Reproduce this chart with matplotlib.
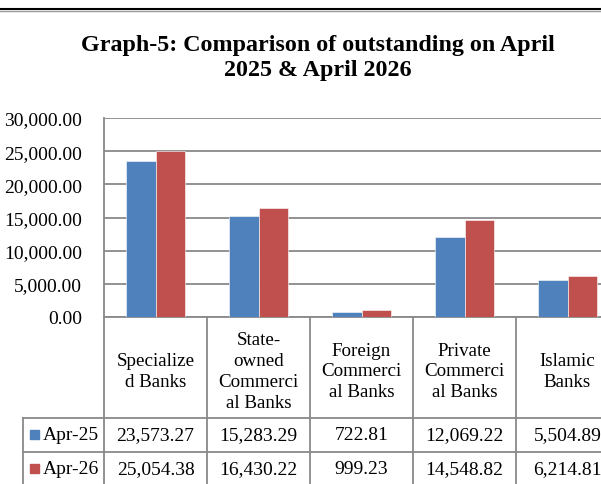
import matplotlib
matplotlib.use('Agg')
import matplotlib.pyplot as plt
from matplotlib.lines import Line2D
from matplotlib.patches import Rectangle
from matplotlib.transforms import blended_transform_factory

# data
categories = ["Specialize\nd Banks", "State-\nowned\nCommerci\nal Banks",
              "Foreign\nCommerci\nal Banks", "Private\nCommerci\nal Banks",
              "Islamic\nBanks"]
series_names = ["Apr-25", "Apr-26"]
apr25 = [23573.27, 15283.29, 722.81, 12069.22, 5504.89]
apr26 = [25054.38, 16430.22, 999.23, 14548.82, 6214.81]
yticks = [0, 5000, 10000, 15000, 20000, 25000, 30000]
colors = ["#4F81BD", "#C0504D"]
title = "Graph-5: Comparison of outstanding on April\n2025 & April 2026"

plt.rcParams['font.family'] = ['Liberation Serif', 'DejaVu Serif']

W, H = 601, 485
fig = plt.figure(figsize=(W / 100, H / 100), dpi=100)


def fx(x):
    return x / W


def fy(y):
    return 1 - y / H


grid_c = '#898989'
fs = 14

# plot area (right side runs past the picture edge, as in the source)
ax = fig.add_axes([fx(104), fy(318), fx(619 - 104), fy(119) - fy(318)])
n = len(categories)
xs = list(range(n))
bw = 0.285
for k, (vals, col) in enumerate(zip([apr25, apr26], colors)):
    off = (k - 0.5) * bw
    ax.bar([x + off for x in xs], vals, width=bw, color=col,
           edgecolor='white', linewidth=0.4, zorder=3)

ax.set_xlim(-0.5, n - 0.5)
ax.set_ylim(0, 30000)
ax.set_yticks(yticks)
ax.set_yticklabels([f"{v:,.2f}" for v in yticks], fontsize=fs)
ax.tick_params(axis='y', length=0, pad=16)
ax.set_xticks([])
ax.yaxis.grid(True, color=grid_c, linewidth=1.3)
ax.set_axisbelow(True)
for s in ['top', 'right']:
    ax.spines[s].set_visible(False)
for s in ['left', 'bottom']:
    ax.spines[s].set_color(grid_c)
    ax.spines[s].set_linewidth(1.3)

# data table under the chart
tr = blended_transform_factory(ax.transData, fig.transFigure)
for b in range(n + 1):
    fig.add_artist(Line2D([b - 0.5, b - 0.5], [fy(318), fy(486)],
                          transform=tr, color=grid_c, lw=1.3))
fig.add_artist(Line2D([fx(23), fx(23)], [fy(419), fy(486)],
                      transform=fig.transFigure, color=grid_c, lw=1.3))
for yy in [419, 453]:
    fig.add_artist(Line2D([fx(23), 1.0], [fy(yy), fy(yy)],
                          transform=fig.transFigure, color=grid_c, lw=1.3))

for i, cat in enumerate(categories):
    fig.text(i, fy(372), cat, transform=tr, ha='center', va='center',
             fontsize=fs - 0.3, linespacing=1.3)

row_y = [436, 470]
for vals, name, col, yy in zip([apr25, apr26], series_names, colors, row_y):
    fig.add_artist(Rectangle((fx(30), fy(yy + 4)), fx(9), fy(yy - 5) - fy(yy + 4),
                             transform=fig.transFigure, color=col))
    fig.text(fx(43), fy(yy), name, ha='left', va='center', fontsize=fs)
    for i, v in enumerate(vals):
        fig.text(i, fy(yy), f"{v:,.2f}", transform=tr, ha='center',
                 va='center', fontsize=fs)

# title
fig.text(fx(318), fy(58), title, ha='center', va='center', fontsize=17.3,
         fontweight='bold', linespacing=1.3)

# frame line at the top
fig.add_artist(Line2D([0, 1], [fy(10), fy(10)], transform=fig.transFigure,
                      color='black', lw=1.5))
fig.add_artist(Line2D([0, 1], [fy(12), fy(12)], transform=fig.transFigure,
                      color='#9a9a9a', lw=1.0))

fig.savefig("out.png", dpi=100)
